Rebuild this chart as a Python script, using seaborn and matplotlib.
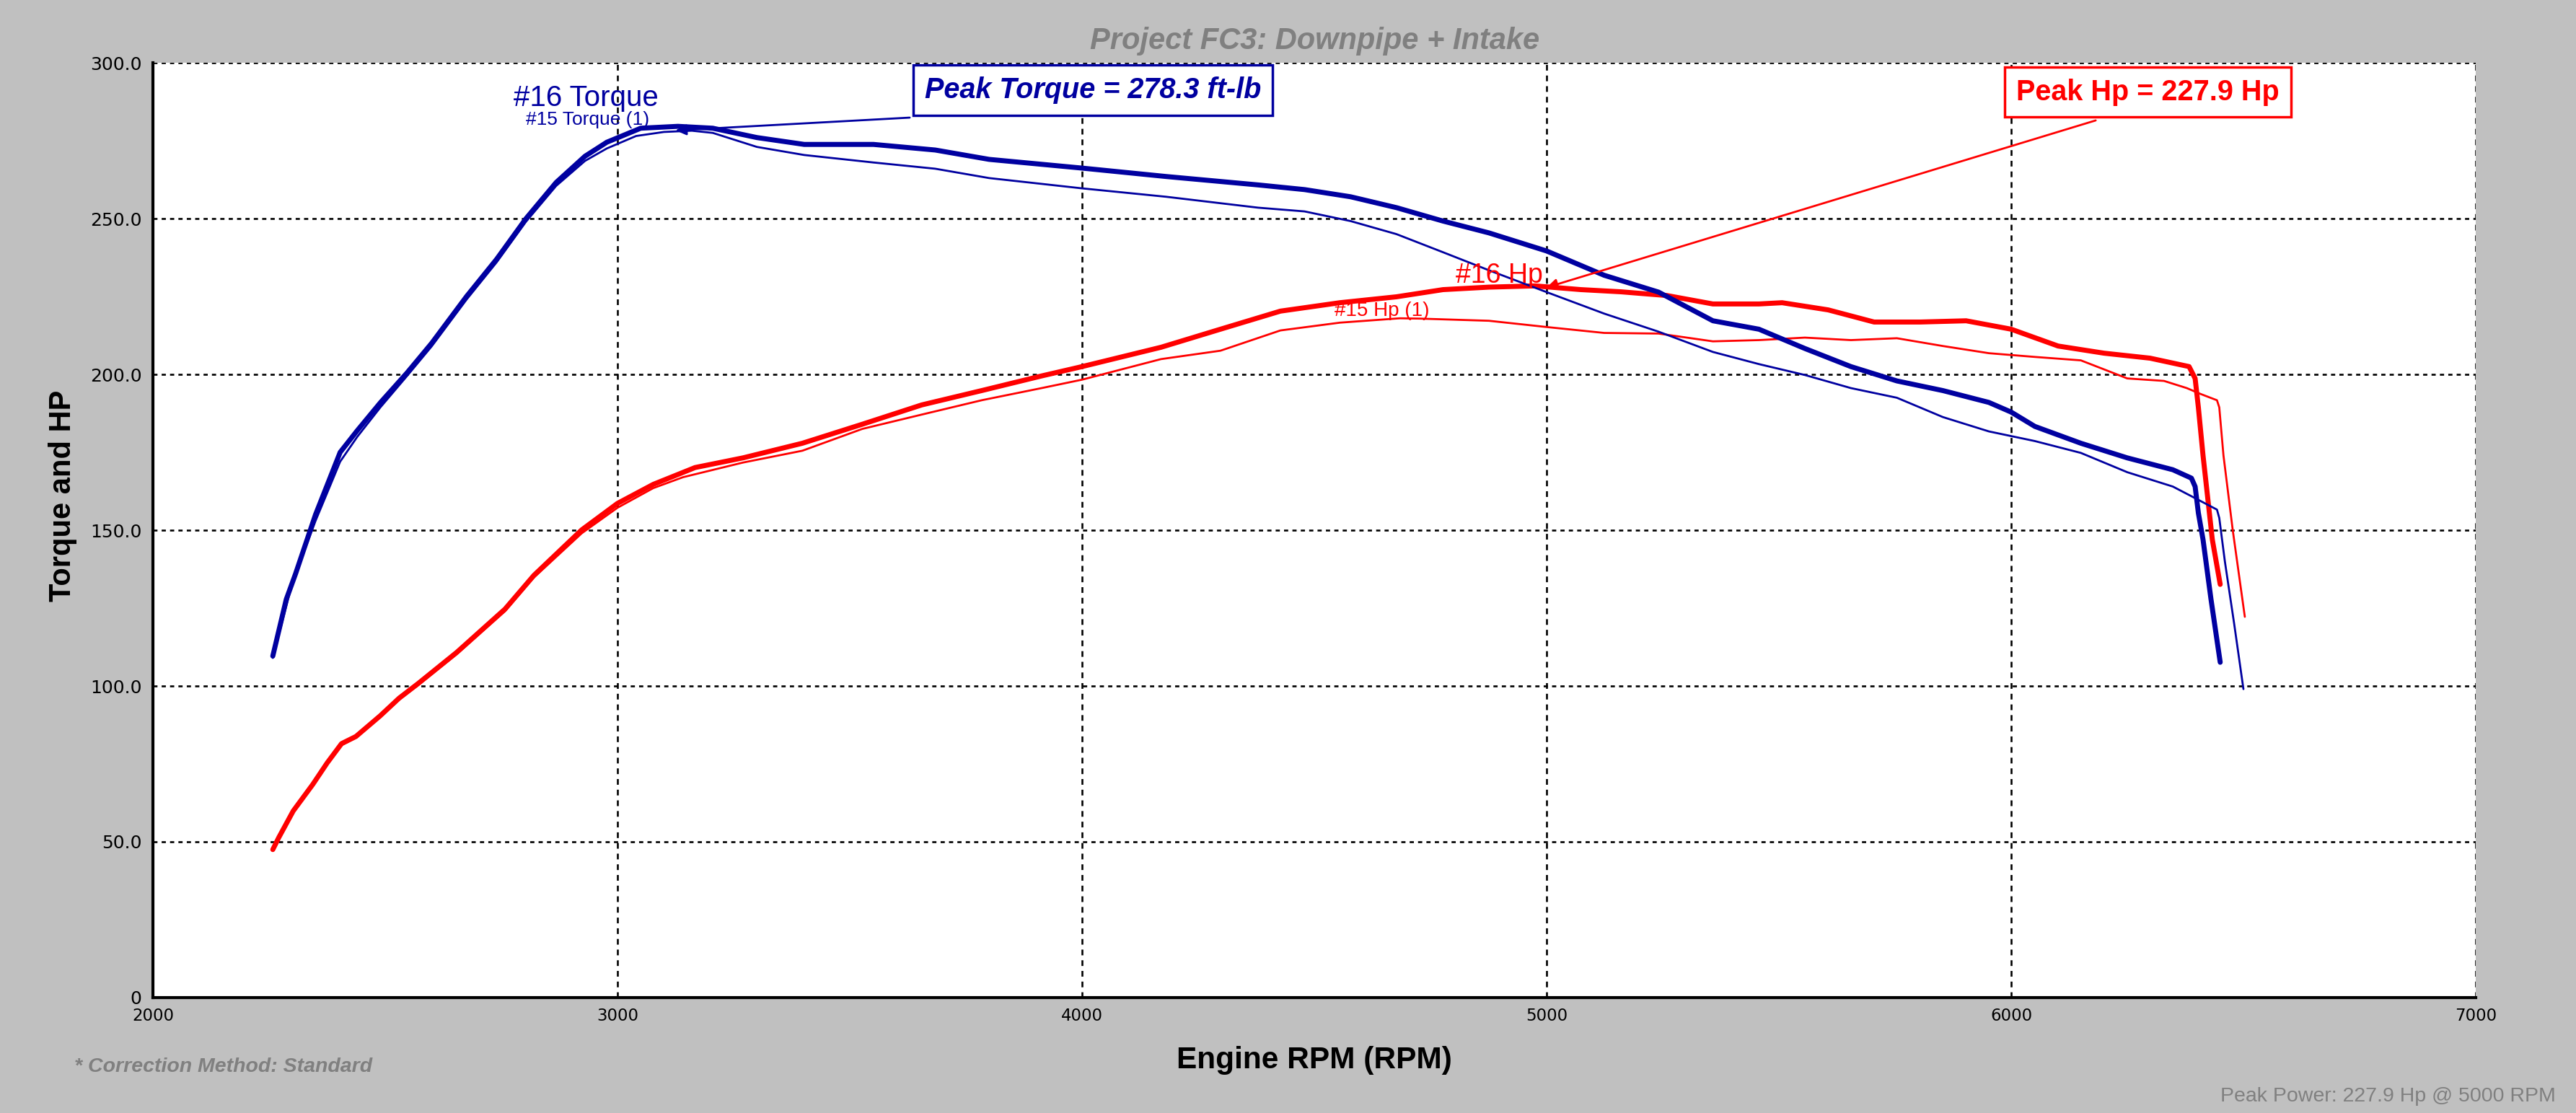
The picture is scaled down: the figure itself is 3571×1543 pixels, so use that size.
import matplotlib
matplotlib.use("Agg")
import matplotlib.pyplot as plt
import matplotlib.ticker as mticker
import seaborn as sns
import pandas as pd

# ---------------- data ----------------
rpm_tq16 = [2258, 2287, 2307, 2350, 2403, 2440, 2490, 2547, 2600, 2675, 2740, 2803, 2868,
            2930, 2977, 3050, 3130, 3205, 3300, 3402, 3551, 3684, 3800, 4000, 4181, 4379,
            4479, 4578, 4677, 4777, 4876, 5000, 5124, 5241, 5358, 5457, 5556, 5655, 5754,
            5853, 5952, 6000, 6051, 6150, 6250, 6348, 6388, 6396, 6403, 6413, 6430, 6450]
tq16 = [109.6, 127.8, 136.0, 155.0, 175.0, 182.0, 191.0, 200.5, 210.0, 225.0, 237.0, 250.0,
        261.6, 270.0, 274.5, 279.0, 279.6, 279.0, 276.0, 273.8, 273.8, 272.0, 269.0, 266.2,
        263.5, 260.8, 259.3, 257.0, 253.5, 249.2, 245.4, 239.6, 231.8, 226.4, 217.2, 214.5,
        208.3, 202.5, 197.9, 194.8, 191.0, 187.9, 183.3, 177.9, 173.2, 169.4, 166.7, 164.0,
        155.5, 147.0, 128.0, 107.6]

rpm_tq15 = [2258, 2300, 2350, 2403, 2440, 2490, 2547, 2600, 2675, 2740, 2803, 2868, 2930,
            2977, 3040, 3100, 3160, 3205, 3300, 3402, 3551, 3684, 3800, 4000, 4181, 4379,
            4479, 4578, 4677, 4777, 4876, 5000, 5124, 5241, 5358, 5457, 5556, 5655, 5754,
            5853, 5952, 6051, 6150, 6250, 6348, 6388, 6443, 6448, 6460, 6480, 6500]
tq15 = [109.0, 133.0, 153.0, 172.0, 180.0, 189.5, 199.5, 209.0, 224.0, 236.0, 249.0, 260.5,
        268.5, 272.5, 276.5, 277.8, 278.2, 277.5, 273.0, 270.4, 268.0, 266.0, 263.0, 259.7,
        257.0, 253.5, 252.3, 249.2, 245.0, 239.2, 233.4, 226.4, 219.5, 213.7, 207.2, 203.3,
        199.8, 195.6, 192.5, 186.3, 181.7, 178.6, 174.8, 168.6, 164.0, 160.9, 156.6, 153.9,
        140.0, 120.0, 99.0]

rpm_hp16 = [2258, 2271, 2302, 2344, 2375, 2406, 2437, 2489, 2530, 2571, 2654, 2758, 2820,
            2923, 3000, 3077, 3167, 3270, 3398, 3527, 3655, 3784, 3913, 4000, 4170, 4298,
            4427, 4555, 4677, 4777, 4876, 4975, 5074, 5160, 5259, 5358, 5457, 5507, 5606,
            5705, 5804, 5903, 6000, 6101, 6200, 6299, 6383, 6396, 6403, 6413, 6433, 6450]
hp16 = [47.5, 51.4, 59.9, 68.4, 75.3, 81.5, 83.8, 90.4, 96.1, 100.8, 110.8, 124.7, 135.5,
        150.1, 158.6, 164.7, 170.1, 173.2, 177.9, 184.0, 190.2, 194.8, 199.5, 202.5, 208.7,
        214.5, 220.3, 223.0, 224.9, 227.2, 228.0, 228.4, 227.2, 226.5, 225.3, 222.6, 222.6,
        223.0, 220.7, 216.8, 216.8, 217.2, 214.5, 209.1, 206.8, 205.2, 202.5, 198.7, 189.4,
        174.0, 147.0, 132.6]

rpm_hp15 = [2258, 2271, 2302, 2344, 2375, 2406, 2437, 2489, 2530, 2571, 2654, 2758, 2820,
            2923, 3000, 3077, 3141, 3270, 3398, 3527, 3655, 3784, 3913, 4000, 4170, 4298,
            4427, 4555, 4684, 4727, 4876, 5000, 5124, 5241, 5358, 5457, 5556, 5655, 5754,
            5853, 5952, 6051, 6150, 6250, 6329, 6378, 6408, 6443, 6448, 6457, 6477, 6503]
hp15 = [47.3, 51.2, 59.6, 68.1, 75.0, 81.0, 83.4, 90.0, 95.6, 100.3, 110.2, 124.0, 134.8,
        149.0, 157.2, 163.5, 167.0, 171.7, 175.5, 182.5, 187.1, 191.7, 195.6, 198.3, 204.9,
        207.6, 214.1, 216.6, 218.0, 217.9, 217.2, 215.2, 213.3, 213.1, 210.6, 211.0, 211.8,
        211.0, 211.6, 209.1, 206.8, 205.6, 204.5, 198.7, 197.9, 195.6, 193.7, 191.7, 189.4,
        174.0, 150.0, 122.2]

x_ticks = [2000, 3000, 4000, 5000, 6000, 7000]
y_ticks = [0, 50, 100, 150, 200, 250, 300]
y_tick_labels = ["0", "50.0", "100.0", "150.0", "200.0", "250.0", "300.0"]

title = "Project FC3: Downpipe + Intake"
peak_tq_text = "Peak Torque = 278.3 ft-lb"
peak_hp_text = "Peak Hp = 227.9 Hp"
peak_tq = (3125, 278.3)
peak_hp = (5000, 227.9)

BLUE = "#0000A0"
RED = "#FF0000"
BG = "#C0C0C0"
GREY = "#808080"
ARIAL = ["Liberation Sans", "DejaVu Sans"]

# ---------------- figure ----------------
sns.set_style("white")
plt.rcParams["font.family"] = ["DejaVu Sans"]

fig = plt.figure(figsize=(35.71, 15.43), dpi=100, facecolor=BG)
ax = fig.add_axes([0.05937, 0.1037, 0.9017, 0.8399])
ax.set_facecolor("white")

series = [
    (rpm_hp15, hp15, RED, 2.0),
    (rpm_hp16, hp16, RED, 5.0),
    (rpm_tq15, tq15, BLUE, 2.0),
    (rpm_tq16, tq16, BLUE, 5.0),
]
for xs, ys, col, lw in series:
    df = pd.DataFrame({"rpm": xs, "val": ys})
    sns.lineplot(data=df, x="rpm", y="val", ax=ax, color=col, linewidth=lw,
                 sort=False, estimator=None, zorder=3)

ax.set_xlim(2000, 7000)
ax.set_ylim(0, 300)
ax.set_xticks(x_ticks)
ax.set_xticklabels([str(t) for t in x_ticks])
ax.set_yticks(y_ticks)
ax.set_yticklabels(y_tick_labels)
ax.xaxis.set_minor_locator(mticker.MultipleLocator(100))
ax.yaxis.set_minor_locator(mticker.MultipleLocator(5))

ax.tick_params(axis="both", which="both", direction="out", colors="black", width=1.5)
ax.tick_params(axis="y", which="major", length=9, pad=2, labelsize=18)
ax.tick_params(axis="y", which="minor", length=4.5)
ax.tick_params(axis="x", which="major", length=7, pad=3, labelsize=16.5)
ax.tick_params(axis="x", which="minor", length=4.5)

ax.xaxis.grid(True, which="major", color="black", linestyle=(0, (3.0, 2.6)), linewidth=1.9)
ax.yaxis.grid(True, which="major", color="black", linestyle=(0, (2.2, 2.2)), linewidth=1.9)
ax.set_axisbelow(True)

for s in ["top", "right"]:
    ax.spines[s].set_visible(False)
for s in ["left", "bottom"]:
    ax.spines[s].set_color("black")
    ax.spines[s].set_linewidth(3.0)

ax.set_xlabel("Engine RPM (RPM)", fontsize=30.5, fontweight="bold", family=ARIAL,
              color="black", labelpad=22)
ax.set_ylabel("Torque and HP", fontsize=30, fontweight="bold", family=ARIAL, color="black")
ax.yaxis.set_label_coords(-0.0325, 0.537)

fig.text(0.5105, 0.963, title, ha="center", va="center", fontsize=30, fontweight="bold",
         style="italic", color=GREY, family=ARIAL)
fig.text(0.0289, 0.0369, "* Correction Method: Standard", ha="left", va="baseline",
         fontsize=20.5, fontweight="bold", style="italic", color=GREY, family=ARIAL)
fig.text(0.992, 0.0105, "Peak Power: 227.9 Hp @ 5000 RPM", ha="right", va="baseline",
         fontsize=20.5, color=GREY, family=ARIAL)

# curve labels
ax.text(2776, 286.2, "#16 Torque", color=BLUE, fontsize=29, family=ARIAL, va="baseline", zorder=5)
ax.text(2803, 280.0, "#15 Torque (1)", color=BLUE, fontsize=19, family=ARIAL, va="baseline", zorder=5)
ax.text(4804, 229.4, "#16 Hp", color=RED, fontsize=27, family=ARIAL, va="baseline", zorder=5)
ax.text(4543, 218.8, "#15 Hp (1)", color=RED, fontsize=20, family=ARIAL, va="baseline", zorder=5)

# peak annotations
ax.annotate("", xy=peak_tq, xytext=(3629, 282.4),
            arrowprops=dict(arrowstyle="-|>", color=BLUE, lw=2.0, mutation_scale=22,
                            shrinkA=0, shrinkB=0), zorder=6)
ax.annotate("", xy=peak_hp, xytext=(6182, 281.5),
            arrowprops=dict(arrowstyle="-|>", color=RED, lw=2.0, mutation_scale=22,
                            shrinkA=0, shrinkB=0), zorder=6)

ax.text(4023, 291.2, peak_tq_text, ha="center", va="center", color=BLUE, fontsize=28.5,
        fontweight="bold", style="italic", family=ARIAL, zorder=7,
        bbox=dict(boxstyle="square,pad=0.4", fc="white", ec=BLUE, lw=2.5))
ax.text(6294, 290.6, peak_hp_text, ha="center", va="center", color=RED, fontsize=28.5,
        fontweight="bold", family=ARIAL, zorder=7,
        bbox=dict(boxstyle="square,pad=0.4", fc="white", ec=RED, lw=2.5))

fig.savefig("out.png", dpi=100, facecolor=BG)
